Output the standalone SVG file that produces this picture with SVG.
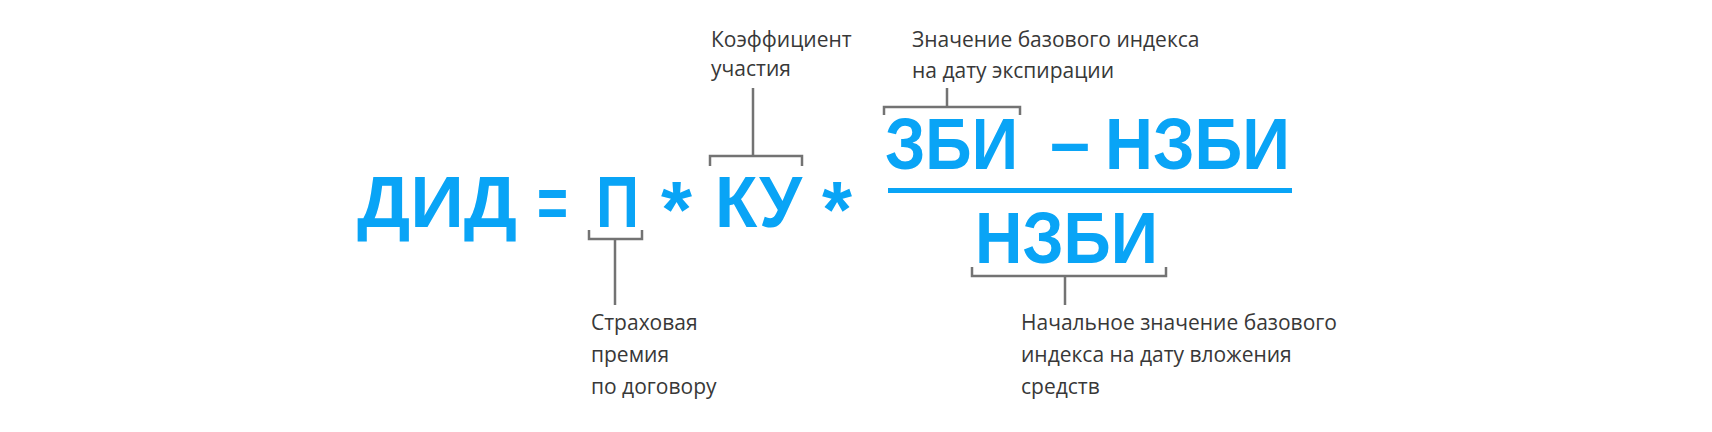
<svg xmlns="http://www.w3.org/2000/svg" width="1712" height="432" viewBox="0 0 1712 432">
<style>
.f{font-family:"Liberation Sans",Arial,sans-serif;font-weight:bold;font-size:72px;fill:#09a4f6}
.a{font-size:80px}
.l{font-family:"Open Sans","Noto Sans",sans-serif;font-size:21px;fill:#383838}
.c{fill:none;stroke:#737373;stroke-width:2.5}
</style>
<rect width="1712" height="432" fill="#ffffff"/>
<g id="formula">
<text class="f" x="357" y="227" textLength="160" lengthAdjust="spacingAndGlyphs">ДИД</text>
<text class="f" x="537" y="227" textLength="31" lengthAdjust="spacingAndGlyphs">=</text>
<text class="f" x="596" y="227" textLength="43" lengthAdjust="spacingAndGlyphs">П</text>
<text class="f a" x="661" y="237" textLength="31" lengthAdjust="spacingAndGlyphs">*</text>
<text class="f" x="715" y="227" textLength="87" lengthAdjust="spacingAndGlyphs">КУ</text>
<text class="f a" x="822" y="237" textLength="30" lengthAdjust="spacingAndGlyphs">*</text>
</g>
<g id="numerator">
<text class="f" x="885" y="169" textLength="133" lengthAdjust="spacingAndGlyphs">ЗБИ</text>
<text class="f" x="1050" y="167" textLength="40" lengthAdjust="spacingAndGlyphs">–</text>
<text class="f" x="1105" y="169" textLength="185" lengthAdjust="spacingAndGlyphs">НЗБИ</text>
</g>
<rect id="fraction-line" x="888" y="188" width="404" height="5" fill="#09a4f6"/>
<g id="denominator">
<text class="f" x="975" y="263" textLength="183" lengthAdjust="spacingAndGlyphs">НЗБИ</text>
</g>
<g id="connectors">
<path class="c" d="M589,230 V239 H642 V230 M615,239 V305"/>
<path class="c" d="M710,166 V156 H802 V166 M753,156 V88"/>
<path class="c" d="M884,115 V107 H1020 V115 M947,107 V88"/>
<path class="c" d="M972,267 V276 H1166 V267 M1065,276 V305"/>
</g>
<g id="label-ku">
<text class="l" x="711" y="47">Коэффициент</text>
<text class="l" x="711" y="76">участия</text>
</g>
<g id="label-zbi">
<text class="l" x="912" y="47">Значение базового индекса</text>
<text class="l" x="912" y="78">на дату экспирации</text>
</g>
<g id="label-p">
<text class="l" x="591" y="330">Страховая</text>
<text class="l" x="591" y="362">премия</text>
<text class="l" x="591" y="394">по договору</text>
</g>
<g id="label-nzbi">
<text class="l" x="1021" y="330">Начальное значение базового</text>
<text class="l" x="1021" y="362">индекса на дату вложения</text>
<text class="l" x="1021" y="394">средств</text>
</g>
</svg>
